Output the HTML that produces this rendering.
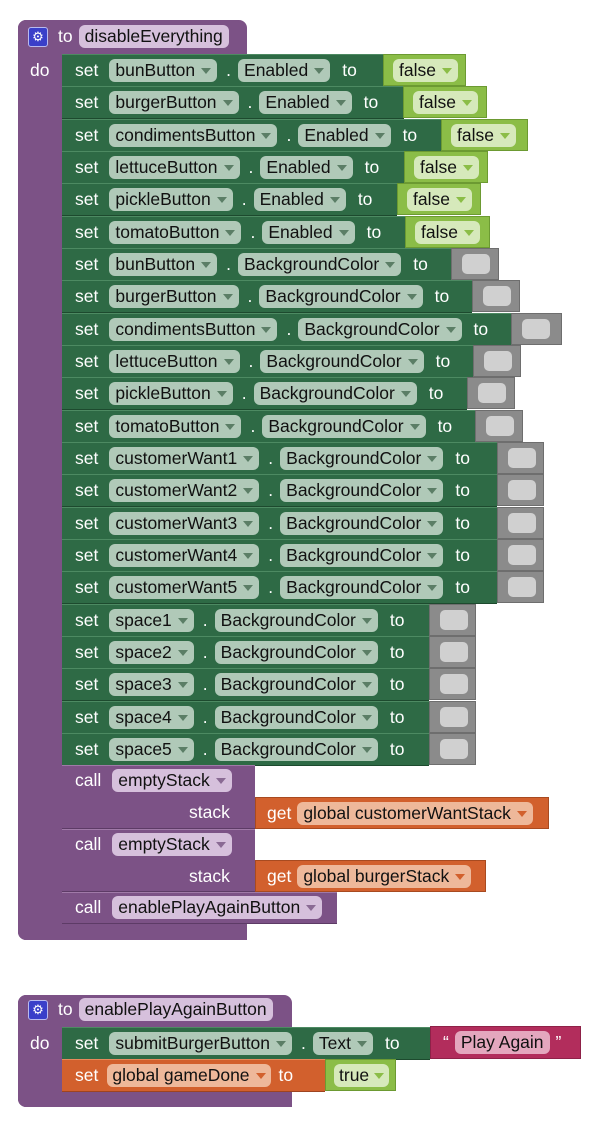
<!DOCTYPE html>
<html><head><meta charset="utf-8">
<style>
body{margin:0;width:600px;height:1130px;background:#fff;position:relative;overflow:hidden;font-family:"Liberation Sans",Arial,sans-serif;font-size:17.5px}
.abs{position:absolute;box-sizing:border-box}
.pur{background:#7c5286}
.row{position:absolute;left:62px;height:33px;display:flex;align-items:center;padding-left:13px;box-sizing:border-box;white-space:nowrap;color:#fff;border-bottom:1px solid #1d4a2e;border-top:1px solid #4d8a62}
.g{background:#2e6a45}
.o{background:#d2602d;border-top-color:#e88a5c;border-bottom-color:#9e4420}
.kw{color:#fff;margin-right:11px}
.pill{display:inline-block;height:23px;line-height:23px;border-radius:6px;padding:0 6px;color:#111;margin-right:7px;white-space:nowrap}
.gp{background:#b0c9b8}
.op{background:#eeb89a}
.pp{background:#d6c0dc}
.lp{background:#d6e9bb}
.rp{background:#e4a7be}
.ar{display:inline-block;width:0;height:0;font-size:0;border-left:5.5px solid transparent;border-right:5.5px solid transparent;border-top:6px solid currentColor;margin-left:6px;vertical-align:middle;color:#5b7e66}
.dot{margin:0 7px 0 2px}
.to{margin-left:5px}
.fb{position:absolute;height:32px;background:#8bbd47;border:1px solid #6c9a32;box-sizing:border-box;display:flex;align-items:center;padding-left:9px;color:#111;white-space:nowrap}
.gb{position:absolute;height:32px;background:#8b8b8b;border:1px solid #6e6e6e;box-sizing:border-box}
.gb i{position:absolute;left:10px;top:5px;width:28px;height:20px;background:#d0d0d0;border-radius:5px}
.cl{position:absolute;left:62px;background:#7c5286;border-top:1px solid #a07aa8;border-bottom:1px solid #5d3b66;box-sizing:border-box;color:#fff}
.gear{display:inline-block;width:18px;height:18px;background:#3a3fc9;border:1px solid #b8baf0;border-radius:3px;color:#fff;font-size:13px;line-height:18px;text-align:center;margin-right:10px}
</style></head><body>

<!-- procedure 1 frame -->
<div class="abs pur" style="left:18px;top:20px;width:229px;height:36px;border-radius:8px 8px 0 0"></div>
<div class="abs pur" style="left:18px;top:20px;width:46px;height:920px;border-radius:8px 0 0 8px"></div>
<div class="abs pur" style="left:18px;top:924px;width:229px;height:16px;border-radius:0 0 0 8px"></div>
<div class="abs" style="left:28px;top:25px;display:flex;align-items:center;color:#fff;white-space:nowrap"><span class="gear">⚙</span><span style="margin-right:6px">to</span><span class="pill pp">disableEverything</span></div>
<div class="abs" style="left:30px;top:60px;color:#fff">do</div>

<!-- Enabled rows -->
<div class="row g" style="top:54px;width:322px"><span class="kw">set</span><span class="pill gp">bunButton<span class="ar">▼</span></span><span class="dot">.</span><span class="pill gp">Enabled<span class="ar">▼</span></span><span class="to">to</span></div>
<div class="fb" style="left:383px;top:54px;width:83px"><span class="pill lp">false<span class="ar" style="color:#8bbd47">▼</span></span></div>
<div class="row g" style="top:86px;width:342px"><span class="kw">set</span><span class="pill gp">burgerButton<span class="ar">▼</span></span><span class="dot">.</span><span class="pill gp">Enabled<span class="ar">▼</span></span><span class="to">to</span></div>
<div class="fb" style="left:403px;top:86px;width:84px"><span class="pill lp">false<span class="ar" style="color:#8bbd47">▼</span></span></div>
<div class="row g" style="top:119px;width:379px"><span class="kw">set</span><span class="pill gp">condimentsButton<span class="ar">▼</span></span><span class="dot">.</span><span class="pill gp">Enabled<span class="ar">▼</span></span><span class="to">to</span></div>
<div class="fb" style="left:441px;top:119px;width:87px"><span class="pill lp">false<span class="ar" style="color:#8bbd47">▼</span></span></div>
<div class="row g" style="top:151px;width:342px"><span class="kw">set</span><span class="pill gp">lettuceButton<span class="ar">▼</span></span><span class="dot">.</span><span class="pill gp">Enabled<span class="ar">▼</span></span><span class="to">to</span></div>
<div class="fb" style="left:404px;top:151px;width:84px"><span class="pill lp">false<span class="ar" style="color:#8bbd47">▼</span></span></div>
<div class="row g" style="top:183px;width:335px"><span class="kw">set</span><span class="pill gp">pickleButton<span class="ar">▼</span></span><span class="dot">.</span><span class="pill gp">Enabled<span class="ar">▼</span></span><span class="to">to</span></div>
<div class="fb" style="left:397px;top:183px;width:84px"><span class="pill lp">false<span class="ar" style="color:#8bbd47">▼</span></span></div>
<div class="row g" style="top:216px;width:343px"><span class="kw">set</span><span class="pill gp">tomatoButton<span class="ar">▼</span></span><span class="dot">.</span><span class="pill gp">Enabled<span class="ar">▼</span></span><span class="to">to</span></div>
<div class="fb" style="left:405px;top:216px;width:85px"><span class="pill lp">false<span class="ar" style="color:#8bbd47">▼</span></span></div>

<!-- BackgroundColor rows -->
<div class="row g" style="top:248px;width:389px"><span class="kw">set</span><span class="pill gp">bunButton<span class="ar">▼</span></span><span class="dot">.</span><span class="pill gp">BackgroundColor<span class="ar">▼</span></span><span class="to">to</span></div>
<div class="gb" style="left:451px;top:248px;width:48px"><i></i></div>
<div class="row g" style="top:280px;width:410px"><span class="kw">set</span><span class="pill gp">burgerButton<span class="ar">▼</span></span><span class="dot">.</span><span class="pill gp">BackgroundColor<span class="ar">▼</span></span><span class="to">to</span></div>
<div class="gb" style="left:472px;top:280px;width:48px"><i></i></div>
<div class="row g" style="top:313px;width:449px"><span class="kw">set</span><span class="pill gp">condimentsButton<span class="ar">▼</span></span><span class="dot">.</span><span class="pill gp">BackgroundColor<span class="ar">▼</span></span><span class="to">to</span></div>
<div class="gb" style="left:511px;top:313px;width:51px"><i></i></div>
<div class="row g" style="top:345px;width:411px"><span class="kw">set</span><span class="pill gp">lettuceButton<span class="ar">▼</span></span><span class="dot">.</span><span class="pill gp">BackgroundColor<span class="ar">▼</span></span><span class="to">to</span></div>
<div class="gb" style="left:473px;top:345px;width:48px"><i></i></div>
<div class="row g" style="top:377px;width:405px"><span class="kw">set</span><span class="pill gp">pickleButton<span class="ar">▼</span></span><span class="dot">.</span><span class="pill gp">BackgroundColor<span class="ar">▼</span></span><span class="to">to</span></div>
<div class="gb" style="left:467px;top:377px;width:48px"><i></i></div>
<div class="row g" style="top:410px;width:413px"><span class="kw">set</span><span class="pill gp">tomatoButton<span class="ar">▼</span></span><span class="dot">.</span><span class="pill gp">BackgroundColor<span class="ar">▼</span></span><span class="to">to</span></div>
<div class="gb" style="left:475px;top:410px;width:48px"><i></i></div>

<div class="row g" style="top:442px;width:435px"><span class="kw">set</span><span class="pill gp">customerWant1<span class="ar">▼</span></span><span class="dot">.</span><span class="pill gp">BackgroundColor<span class="ar">▼</span></span><span class="to">to</span></div>
<div class="gb" style="left:497px;top:442px;width:47px"><i></i></div>
<div class="row g" style="top:474px;width:435px"><span class="kw">set</span><span class="pill gp">customerWant2<span class="ar">▼</span></span><span class="dot">.</span><span class="pill gp">BackgroundColor<span class="ar">▼</span></span><span class="to">to</span></div>
<div class="gb" style="left:497px;top:474px;width:47px"><i></i></div>
<div class="row g" style="top:507px;width:435px"><span class="kw">set</span><span class="pill gp">customerWant3<span class="ar">▼</span></span><span class="dot">.</span><span class="pill gp">BackgroundColor<span class="ar">▼</span></span><span class="to">to</span></div>
<div class="gb" style="left:497px;top:507px;width:47px"><i></i></div>
<div class="row g" style="top:539px;width:435px"><span class="kw">set</span><span class="pill gp">customerWant4<span class="ar">▼</span></span><span class="dot">.</span><span class="pill gp">BackgroundColor<span class="ar">▼</span></span><span class="to">to</span></div>
<div class="gb" style="left:497px;top:539px;width:47px"><i></i></div>
<div class="row g" style="top:571px;width:435px"><span class="kw">set</span><span class="pill gp">customerWant5<span class="ar">▼</span></span><span class="dot">.</span><span class="pill gp">BackgroundColor<span class="ar">▼</span></span><span class="to">to</span></div>
<div class="gb" style="left:497px;top:571px;width:47px"><i></i></div>

<div class="row g" style="top:604px;width:367px"><span class="kw">set</span><span class="pill gp">space1<span class="ar">▼</span></span><span class="dot">.</span><span class="pill gp">BackgroundColor<span class="ar">▼</span></span><span class="to">to</span></div>
<div class="gb" style="left:429px;top:604px;width:47px"><i></i></div>
<div class="row g" style="top:636px;width:367px"><span class="kw">set</span><span class="pill gp">space2<span class="ar">▼</span></span><span class="dot">.</span><span class="pill gp">BackgroundColor<span class="ar">▼</span></span><span class="to">to</span></div>
<div class="gb" style="left:429px;top:636px;width:47px"><i></i></div>
<div class="row g" style="top:668px;width:367px"><span class="kw">set</span><span class="pill gp">space3<span class="ar">▼</span></span><span class="dot">.</span><span class="pill gp">BackgroundColor<span class="ar">▼</span></span><span class="to">to</span></div>
<div class="gb" style="left:429px;top:668px;width:47px"><i></i></div>
<div class="row g" style="top:701px;width:367px"><span class="kw">set</span><span class="pill gp">space4<span class="ar">▼</span></span><span class="dot">.</span><span class="pill gp">BackgroundColor<span class="ar">▼</span></span><span class="to">to</span></div>
<div class="gb" style="left:429px;top:701px;width:47px"><i></i></div>
<div class="row g" style="top:733px;width:367px"><span class="kw">set</span><span class="pill gp">space5<span class="ar">▼</span></span><span class="dot">.</span><span class="pill gp">BackgroundColor<span class="ar">▼</span></span><span class="to">to</span></div>
<div class="gb" style="left:429px;top:733px;width:47px"><i></i></div>

<!-- call blocks -->
<div class="cl" style="top:765px;width:193px;height:64px"></div>
<div class="abs" style="left:75px;top:769px;display:flex;align-items:center;color:#fff;white-space:nowrap"><span class="kw">call</span><span class="pill pp">emptyStack<span class="ar" style="color:#8a6a94">▼</span></span></div>
<div class="abs" style="left:189px;top:802px;color:#fff">stack</div>
<div class="abs" style="left:255px;top:797px;width:294px;height:32px;background:#d2602d;border:1px solid #a84a20;display:flex;align-items:center;padding-left:11px;color:#fff;white-space:nowrap"><span class="kw" style="margin-right:6px">get</span><span class="pill op">global customerWantStack<span class="ar" style="color:#d2602d">▼</span></span></div>

<div class="cl" style="top:829px;width:193px;height:63px"></div>
<div class="abs" style="left:75px;top:833px;display:flex;align-items:center;color:#fff;white-space:nowrap"><span class="kw">call</span><span class="pill pp">emptyStack<span class="ar" style="color:#8a6a94">▼</span></span></div>
<div class="abs" style="left:189px;top:866px;color:#fff">stack</div>
<div class="abs" style="left:255px;top:860px;width:231px;height:32px;background:#d2602d;border:1px solid #a84a20;display:flex;align-items:center;padding-left:11px;color:#fff;white-space:nowrap"><span class="kw" style="margin-right:6px">get</span><span class="pill op">global burgerStack<span class="ar" style="color:#d2602d">▼</span></span></div>

<div class="cl" style="top:892px;width:275px;height:32px"></div>
<div class="abs" style="left:75px;top:896px;display:flex;align-items:center;color:#fff;white-space:nowrap"><span class="kw">call</span><span class="pill pp">enablePlayAgainButton<span class="ar" style="color:#8a6a94">▼</span></span></div>

<!-- procedure 2 -->
<div class="abs pur" style="left:18px;top:995px;width:274px;height:33px;border-radius:8px 8px 0 0"></div>
<div class="abs pur" style="left:18px;top:995px;width:46px;height:112px;border-radius:8px 0 0 8px"></div>
<div class="abs pur" style="left:18px;top:1090px;width:274px;height:17px;border-radius:0 0 0 8px"></div>
<div class="abs" style="left:28px;top:998px;display:flex;align-items:center;color:#fff;white-space:nowrap"><span class="gear">⚙</span><span style="margin-right:6px">to</span><span class="pill pp">enablePlayAgainButton</span></div>
<div class="abs" style="left:30px;top:1033px;color:#fff">do</div>

<div class="row g" style="top:1027px;width:368px"><span class="kw">set</span><span class="pill gp">submitBurgerButton<span class="ar">▼</span></span><span class="dot">.</span><span class="pill gp">Text<span class="ar">▼</span></span><span class="to">to</span></div>
<div class="abs" style="left:430px;top:1026px;width:151px;height:33px;background:#b22d5c;border:1px solid #8e2148;display:flex;align-items:center;padding-left:12px;color:#fff;white-space:nowrap"><span style="margin-right:6px">“</span><span class="pill rp" style="margin-right:6px">Play Again</span><span>”</span></div>

<div class="row o" style="top:1059px;width:263px;padding-left:13px"><span class="kw" style="margin-right:9px">set</span><span class="pill op" style="padding:0 5px;margin-right:8px">global gameDone<span class="ar" style="color:#d2602d">▼</span></span><span>to</span></div>
<div class="fb" style="left:325px;top:1059px;width:71px;height:32px;padding-left:8px"><span class="pill lp" style="padding:0 5px;margin-right:0">true<span class="ar" style="color:#8bbd47;margin-left:5px">▼</span></span></div>

</body></html>
